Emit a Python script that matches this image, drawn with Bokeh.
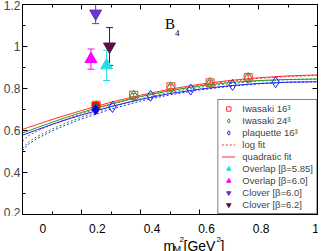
from bokeh.plotting import figure
from bokeh.layouts import column
from bokeh.models import (Range1d, LinearAxis, Label, Legend, LegendItem,
                          Whisker, ColumnDataSource, FixedTicker)
from bokeh.embed import file_html
from bokeh.resources import INLINE

# ---------------- data ----------------
iw16_x = [0.25, 0.377, 0.503, 0.636, 0.765]
iw16_y = [0.720, 0.768, 0.808, 0.827, 0.852]
iw16_e = [0.010, 0.008, 0.010, 0.010, 0.012]

iw24_x = [0.25, 0.377, 0.503, 0.636, 0.765]
iw24_y = [0.716, 0.765, 0.805, 0.826, 0.850]

plaq_x = [0.305, 0.434, 0.570, 0.712, 0.858]
plaq_y = [0.712, 0.765, 0.795, 0.817, 0.830]

chiral_x = [0.248, 0.248, 0.248]
chiral_y = [0.716, 0.706, 0.699]

ov585_x, ov585_y, ov585_e = [0.285], [0.910], [0.072]
ov60_x, ov60_y, ov60_e = [0.232], [0.940], [0.048]
cl60_x, cl60_y, cl60_e = [0.248], [1.157], [0.048]
cl62_x, cl62_y, cl62_e = [0.295], [1.000], [0.090]

fit_x = [0.0, 0.02, 0.05, 0.1, 0.15, 0.2, 0.3, 0.4, 0.5, 0.6, 0.7, 0.8, 0.9, 1.0]
red_quad = [0.605, 0.615, 0.629, 0.652, 0.674, 0.695, 0.735, 0.768, 0.797, 0.820, 0.838, 0.851, 0.860, 0.865]
red_log = [0.548, 0.575, 0.598, 0.628, 0.655, 0.680, 0.724, 0.760, 0.790, 0.815, 0.834, 0.848, 0.857, 0.862]
grn_quad = [0.588, 0.598, 0.614, 0.639, 0.663, 0.686, 0.727, 0.762, 0.790, 0.812, 0.828, 0.838, 0.843, 0.845]
grn_log = [0.515, 0.545, 0.572, 0.607, 0.637, 0.664, 0.712, 0.751, 0.782, 0.806, 0.823, 0.835, 0.842, 0.846]
blu_quad = [0.578, 0.588, 0.604, 0.629, 0.652, 0.674, 0.714, 0.748, 0.776, 0.797, 0.813, 0.824, 0.830, 0.832]
blu_log = [0.505, 0.535, 0.562, 0.598, 0.628, 0.655, 0.702, 0.740, 0.770, 0.793, 0.810, 0.822, 0.830, 0.833]

x_ticks = [0, 0.2, 0.4, 0.6, 0.8, 1.0]
x_tick_labels = ["0", "0.2", "0.4", "0.6", "0.8", "1"]
y_ticks = [0.2, 0.4, 0.6, 0.8, 1.0, 1.2]
y_tick_labels = ["0.2", "0.4", "0.6", "0.8", "1", "1.2"]
minor_tick_vals = [t / 10 for t in range(0, 13)]

RED = "#ff3030"
GREEN = "#20a020"
BLUE = "#2020ff"
CYAN = "#22e0e0"
MAGENTA = "#ff00ff"
PURPLE = "#6a35c8"
MAROON = "#5e0a46"
FONT = "Liberation Sans"

W = 319
LEFT = 22      # left border (y tick labels)
RIGHT = 2      # right border
FRAME_W = W - LEFT - RIGHT
P_H = 216
Q_H = 35

p = figure(width=W, height=P_H, output_backend="svg", toolbar_location=None,
           x_range=Range1d(0, 1), y_range=Range1d(0.2, 1.2),
           min_border_left=LEFT, min_border_right=RIGHT, min_border_top=4,
           min_border_bottom=2)
p.background_fill_color = "white"
p.border_fill_color = "white"
p.outline_line_color = "black"
p.xgrid.visible = False
p.ygrid.visible = False

def style_axis(ax, ticks, labels, show_labels):
    ax.ticker = FixedTicker(ticks=ticks, minor_ticks=minor_tick_vals)
    ax.major_label_overrides = {t: l for t, l in zip(ticks, labels)}
    ax.major_tick_in = 5
    ax.major_tick_out = 0
    ax.minor_tick_in = 3
    ax.minor_tick_out = 0
    ax.axis_line_color = "black"
    ax.major_label_text_font = FONT
    ax.major_label_text_font_size = "12px"
    ax.major_label_standoff = 2
    if not show_labels:
        ax.major_label_text_font_size = "0px"
        ax.major_label_standoff = 0

# bottom tick labels are drawn in the strip below (q)
style_axis(p.xaxis[0], x_ticks, x_tick_labels, False)
style_axis(p.yaxis[0], y_ticks, y_tick_labels, True)
top = LinearAxis()
right = LinearAxis()
style_axis(top, x_ticks, x_tick_labels, False)
style_axis(right, y_ticks, y_tick_labels, False)
p.add_layout(top, "above")
p.add_layout(right, "right")

# fits
l_rq = p.line(fit_x, red_quad, line_color=RED, line_width=1)
l_rl = p.line(fit_x, red_log, line_color=RED, line_width=1, line_dash="2 2")
p.line(fit_x, grn_quad, line_color=GREEN, line_width=1)
p.line(fit_x, grn_log, line_color=GREEN, line_width=1, line_dash="2 2")
p.line(fit_x, blu_quad, line_color=BLUE, line_width=1)
p.line(fit_x, blu_log, line_color=BLUE, line_width=1, line_dash="2 2")

# error bars
def errbars(xs, ys, es, color, w=7):
    src = ColumnDataSource(dict(x=xs, lo=[y - e for y, e in zip(ys, es)],
                                hi=[y + e for y, e in zip(ys, es)]))
    wk = Whisker(source=src, base="x", lower="lo", upper="hi",
                 line_color=color, line_width=1)
    wk.upper_head.size = w
    wk.lower_head.size = w
    wk.upper_head.line_color = color
    wk.lower_head.line_color = color
    p.add_layout(wk)

errbars(iw16_x, iw16_y, iw16_e, RED, 5)

r16 = p.scatter(iw16_x, iw16_y, marker="square", size=8, line_color=RED,
                fill_color=None, line_width=1)
r24 = p.scatter(iw24_x, iw24_y, marker="diamond", size=11, line_color=GREEN,
                fill_color=None, line_width=1)
rpl = p.scatter(plaq_x, plaq_y, marker="diamond", size=11, line_color=BLUE,
                fill_color=None, line_width=1)

p.scatter(chiral_x[0:1], chiral_y[0:1], marker="square", size=7, color="red")
p.scatter(chiral_x[1:2], chiral_y[1:2], marker="diamond", size=10, color="#00a000")
p.scatter(chiral_x[2:3], chiral_y[2:3], marker="diamond", size=10, color="#0000ff")

errbars(ov585_x, ov585_y, ov585_e, CYAN)
errbars(ov60_x, ov60_y, ov60_e, MAGENTA)
errbars(cl60_x, cl60_y, cl60_e, PURPLE)
errbars(cl62_x, cl62_y, cl62_e, MAROON)

ro1 = p.scatter(ov585_x, ov585_y, marker="triangle", size=12, color=CYAN)
ro2 = p.scatter(ov60_x, ov60_y, marker="triangle", size=12, color=MAGENTA)
rc1 = p.scatter(cl60_x, cl60_y, marker="inverted_triangle", size=12, color=PURPLE)
rc2 = p.scatter(cl62_x, cl62_y, marker="inverted_triangle", size=12, color=MAROON)

legend = Legend(items=[
    LegendItem(label="Iwasaki 16³", renderers=[r16]),
    LegendItem(label="Iwasaki 24³", renderers=[r24]),
    LegendItem(label="plaquette 16³", renderers=[rpl]),
    LegendItem(label="log fit", renderers=[l_rl]),
    LegendItem(label="quadratic fit", renderers=[l_rq]),
    LegendItem(label="Overlap [β=5.85]", renderers=[ro1]),
    LegendItem(label="Overlap [β=6.0]", renderers=[ro2]),
    LegendItem(label="Clover [β=6.0]", renderers=[rc1]),
    LegendItem(label="Clover [β=6.2]", renderers=[rc2]),
], location="bottom_right")
legend.margin = 0
legend.padding = 3
legend.spacing = 1
legend.label_height = 11
legend.glyph_height = 11
legend.glyph_width = 14
legend.label_standoff = 7
legend.label_text_font = FONT
legend.label_text_font_size = "9.5px"
legend.border_line_color = "black"
legend.border_line_width = 1
legend.background_fill_alpha = 1
p.add_layout(legend)

# B_4 label
p.add_layout(Label(x=0.483, y=1.067, text="B", text_font="Liberation Serif",
                   text_font_size="15px", text_color="black"))
p.add_layout(Label(x=0.483, y=1.067, x_offset=10, y_offset=-4, text="4",
                   text_font="Liberation Serif", text_font_size="9px", text_color="black"))

# strip below: x tick labels and the composed x axis title
q = figure(width=W, height=Q_H, output_backend="svg", toolbar_location=None,
           x_range=Range1d(-LEFT / FRAME_W, 1 + RIGHT / FRAME_W), y_range=Range1d(0, Q_H),
           x_axis_type=None, y_axis_type=None, min_border=0)
q.outline_line_color = None
q.background_fill_color = "white"
q.border_fill_color = "white"

for t, lab in zip(x_ticks, x_tick_labels):
    q.add_layout(Label(x=t, y=23, x_units="data", y_units="screen", text=lab,
                       text_align="center", text_baseline="alphabetic",
                       text_font=FONT, text_font_size="12px", text_color="black"))

xl_x0 = 141
xl_base = 6
parts = [("m", 0, 0, "14px"), ("M", 10, -3, "9px"), ("2", 16, 6, "8px"),
         ("[GeV", 20, 0, "14px"), ("2", 53, 6, "8px"), ("]", 57, 0, "14px")]
for t, dx, dy, fs in parts:
    q.add_layout(Label(x=xl_x0 + dx, y=xl_base + dy, x_units="screen", y_units="screen",
                       text=t, text_font=FONT, text_font_size=fs,
                       text_baseline="alphabetic", text_color="black"))

layout = column(p, q, spacing=0)
open("out.html", "w").write(file_html(layout, INLINE))
